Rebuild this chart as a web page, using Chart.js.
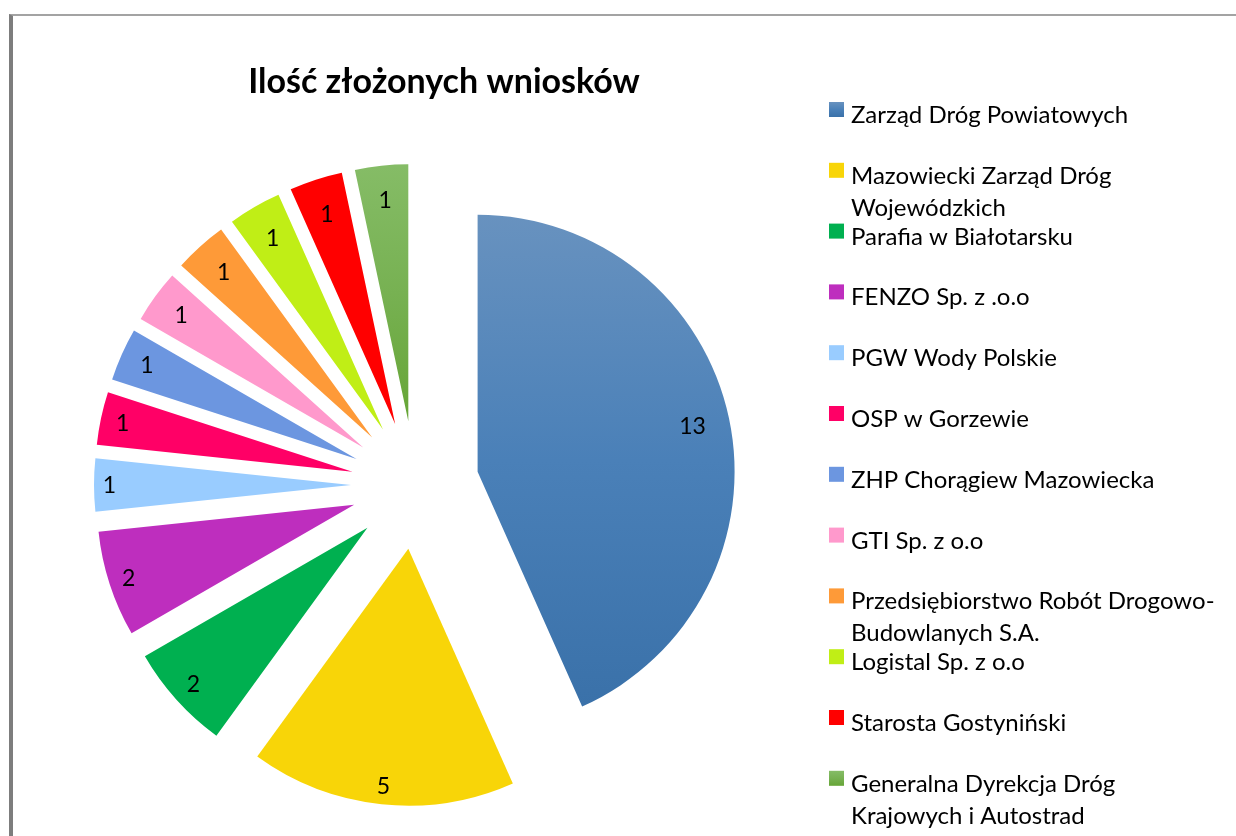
<!DOCTYPE html>
<html>
<head>
<meta charset="utf-8">
<script src="https://cdn.jsdelivr.net/npm/chart.js@4.4.1/dist/chart.umd.min.js"></script>
<style>
  html, body { margin: 0; padding: 0; background: #ffffff; }
  body { width: 1236px; height: 836px; position: relative; overflow: hidden; }
  #frame { position: absolute; left: 9px; top: 14px; width: 1300px; height: 900px;
           border-left: 4px solid #7d7d7d; border-top: 2px solid #a3a3a3; box-sizing: border-box; }
  #c { position: absolute; left: 0; top: 0; }
</style>
</head>
<body>
<div id="frame"></div>
<canvas id="c" width="1236" height="836"></canvas>
<script>
// ---- data ----
const chartTitle = 'Ilość złożonych wniosków';
const categories = [
  'Zarząd Dróg Powiatowych',
  'Mazowiecki Zarząd Dróg Wojewódzkich',
  'Parafia w Białotarsku',
  'FENZO Sp. z .o.o',
  'PGW Wody Polskie',
  'OSP w Gorzewie',
  'ZHP Chorągiew Mazowiecka',
  'GTI Sp. z o.o',
  'Przedsiębiorstwo Robót Drogowo-Budowlanych S.A.',
  'Logistal Sp. z o.o',
  'Starosta Gostyniński',
  'Generalna Dyrekcja Dróg Krajowych i Autostrad'
];
const legendLines = [
  ['Zarząd Dróg Powiatowych'],
  ['Mazowiecki Zarząd Dróg', 'Wojewódzkich'],
  ['Parafia w Białotarsku'],
  ['FENZO Sp. z .o.o'],
  ['PGW Wody Polskie'],
  ['OSP w Gorzewie'],
  ['ZHP Chorągiew Mazowiecka'],
  ['GTI Sp. z o.o'],
  ['Przedsiębiorstwo Robót Drogowo-', 'Budowlanych S.A.'],
  ['Logistal Sp. z o.o'],
  ['Starosta Gostyniński'],
  ['Generalna Dyrekcja Dróg', 'Krajowych i Autostrad']
];
const values = [13, 5, 2, 2, 1, 1, 1, 1, 1, 1, 1, 1];
const colors = ['#4F81BD', '#F8D508', '#00B050', '#BE2EBE', '#99CCFF', '#FF0066',
                '#6C96E0', '#FF99CC', '#FE9A38', '#C0EE16', '#FF0000', '#74AF4A'];
const gradientStops = {
  0:  ['#6892BF', '#4A80B8', '#3A71A9'],
  11: ['#85BC66', '#77B152', '#66A536']
};

// ---- style constants ----
const FONT = 'Lato, "Open Sans", "Noto Sans", sans-serif';
const RADIUS = 257;
const EXPLODE = 64;

function makeGradient(ctx, stops, y0, y1) {
  const g = ctx.createLinearGradient(0, y0, 0, y1);
  stops.forEach((c, i) => g.addColorStop(i / (stops.length - 1), c));
  return g;
}

const explodePlugin = {
  id: 'explode',
  afterDatasetsUpdate(chart) {
    const a = chart.chartArea;
    const cx = (a.left + a.right) / 2, cy = (a.top + a.bottom) / 2;
    chart.getDatasetMeta(0).data.forEach(arc => {
      const mid = (arc.startAngle + arc.endAngle) / 2;
      arc.x = cx + Math.cos(mid) * EXPLODE;
      arc.y = cy + Math.sin(mid) * EXPLODE;
    });
  }
};

const decorPlugin = {
  id: 'decor',
  afterDraw(chart) {
    const ctx = chart.ctx;
    ctx.save();
    // title
    ctx.fillStyle = '#000';
    ctx.font = 'bold 34px ' + FONT;
    ctx.textAlign = 'center';
    ctx.textBaseline = 'alphabetic';
    ctx.fillText(chartTitle, 444, 93);

    // value labels
    const lblSize = 23;
    ctx.font = lblSize + 'px ' + FONT;
    const meta = chart.getDatasetMeta(0);
    meta.data.forEach((arc, i) => {
      const mid = (arc.startAngle + arc.endAngle) / 2;
      const dx = Math.cos(mid), dy = Math.sin(mid);
      const txt = String(values[i]);
      const mx = 15.5 * txt.length;
      const my = dy < 0 ? 33 : 17;
      const dist = arc.outerRadius - (mx * Math.abs(dx) + my * Math.abs(dy));
      const x = arc.x + dx * dist, y = arc.y + dy * dist;
      ctx.textAlign = 'center';
      ctx.fillText(txt, x, y + lblSize * 0.34);
    });

    // legend
    ctx.font = '24px ' + FONT;
    ctx.textAlign = 'left';
    legendLines.forEach((lines, i) => {
      const top = 102 + 60.8 * i;
      if (gradientStops[i]) {
        ctx.fillStyle = makeGradient(ctx, gradientStops[i], top, top + 15);
      } else {
        ctx.fillStyle = colors[i];
      }
      ctx.fillRect(829, top, 15, 15);
      ctx.fillStyle = '#000';
      lines.forEach((ln, j) => ctx.fillText(ln, 851, top + 21 + j * 32));
    });
    ctx.restore();
  }
};

const canvas = document.getElementById('c');
new Chart(canvas, {
  type: 'pie',
  data: {
    labels: categories,
    datasets: [{
      data: values,
      borderWidth: 0,
      backgroundColor: (c) => {
        const i = c.dataIndex;
        const a = c.chart.chartArea;
        if (gradientStops[i] && a) {
          const cy = (a.top + a.bottom) / 2;
          if (i === 0) return makeGradient(c.chart.ctx, gradientStops[i], cy - RADIUS - 14, cy + RADIUS - 35);
          return makeGradient(c.chart.ctx, gradientStops[i], cy - RADIUS - 62, cy - EXPLODE);
        }
        return colors[i];
      }
    }]
  },
  options: {
    responsive: false,
    animation: false,
    events: [],
    radius: RADIUS,
    layout: { padding: { left: 100, right: 506, top: 150, bottom: 16 } },
    plugins: {
      legend: { display: false },
      title: { display: false },
      tooltip: { enabled: false }
    }
  },
  plugins: [explodePlugin, decorPlugin]
});
</script>
</body>
</html>
